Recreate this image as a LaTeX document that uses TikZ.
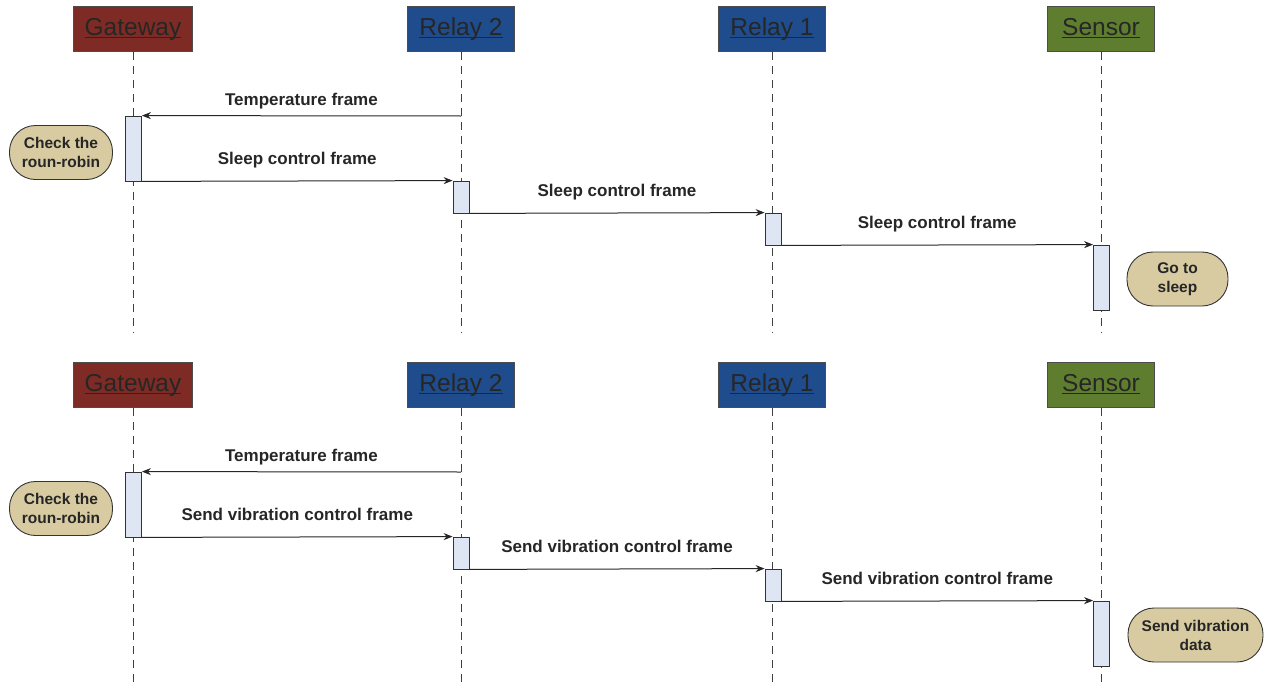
\documentclass[tikz,border=0pt]{standalone}
\usepackage{fontspec}
\setmainfont{Liberation Sans}
\usetikzlibrary{arrows.meta}
\definecolor{gwred}{HTML}{7E2B25}
\definecolor{rlblue}{HTML}{1F4C8C}
\definecolor{sngreen}{HTML}{5F7D2F}
\definecolor{actfill}{HTML}{DDE6F2}
\definecolor{pillfill}{HTML}{D8CBA2}
% underline at a fixed depth, independent of descenders
\newcommand\ulword[1]{\setbox0\hbox{#1}\rlap{\rule[-2.6pt]{\wd0}{1pt}}\box0}
\tikzset{
  head/.style={draw=black!70, line width=0.8pt, minimum width=107pt, minimum height=45pt,
    inner sep=0pt, text height=17pt, text depth=5pt,
    font=\fontsize{24.5}{26}\selectfont, text=black!85},
  life/.style={draw=black!75, line width=1pt, dash pattern=on 8pt off 6pt},
  act/.style={draw=black!80, fill=actfill, line width=0.8pt, minimum width=16pt, inner sep=0pt},
  msg/.style={draw=black!85, line width=1pt, -{Stealth[length=9pt,width=7pt]}},
  lbl/.style={font=\bfseries\fontsize{17}{19}\selectfont, text=black!85, inner sep=0pt,
    anchor=base},
  pill/.style={draw=black!80, fill=pillfill, line width=0.9pt, rectangle, rounded corners=26pt,
    minimum height=54pt, inner sep=2pt, align=center,
    font=\bfseries\fontsize{15.5}{19}\selectfont, text=black!85},
}
\begin{document}
\begin{tikzpicture}[x=1pt,y=-1pt]
\useasboundingbox (0,0) rectangle (1272,688);

% ---------- upper sequence: sleep command ----------
\node[head, fill=gwred, minimum width=119pt] (g1) at (133,29) {\ulword{Gateway}};
\node[head, fill=rlblue] (r21) at (461,29) {\ulword{Relay 2}};
\node[head, fill=rlblue] (r11) at (772,29) {\ulword{Relay 1}};
\node[head, fill=sngreen] (s1) at (1101,29) {\ulword{Sensor}};

\coordinate (g1e) at (133,332);
\coordinate (r21e) at (461,332);
\coordinate (r11e) at (772,332);
\coordinate (s1e) at (1101,332);
\draw[life] (g1) -- (g1e);
\draw[life] (r21) -- (r21e);
\draw[life] (r11) -- (r11e);
\draw[life] (s1) -- (s1e);

\node[act, minimum height=65pt] (ga1) at (133.5,148.5) {};
\node[act, minimum height=32pt] (ra1) at (461,197) {};
\node[act, minimum height=32pt] (rb1) at (773,229) {};
\node[act, minimum height=65pt] (sa1) at (1101.5,277.5) {};

\coordinate (t1) at (461,116);
\draw[msg] (t1) -- (ga1.north east) node[lbl, midway, yshift=10pt] {Temperature frame};
\draw[msg] (ga1.south east) -- (ra1.north west) node[lbl, midway, yshift=17pt] {Sleep control frame};
\draw[msg] (ra1.south east) -- (rb1.north west) node[lbl, midway, yshift=17pt] {Sleep control frame};
\draw[msg] (rb1.south east) -- (sa1.north west) node[lbl, midway, yshift=17pt] {Sleep control frame};

\node[pill, minimum width=103pt] (cr1) at (61,152.5) {Check the\\roun-robin};
\node[pill, minimum width=101pt] (gs) at (1177.5,279) {Go to\\sleep};

% ---------- lower sequence: vibration request ----------
\node[head, fill=gwred, minimum width=119pt] (g2) at (133,385) {\ulword{Gateway}};
\node[head, fill=rlblue] (r22) at (461,385) {\ulword{Relay 2}};
\node[head, fill=rlblue] (r12) at (772,385) {\ulword{Relay 1}};
\node[head, fill=sngreen] (s2) at (1101,385) {\ulword{Sensor}};

\coordinate (g2e) at (133,690);
\coordinate (r22e) at (461,690);
\coordinate (r12e) at (772,690);
\coordinate (s2e) at (1101,690);
\draw[life] (g2) -- (g2e);
\draw[life] (r22) -- (r22e);
\draw[life] (r12) -- (r12e);
\draw[life] (s2) -- (s2e);

\node[act, minimum height=65pt] (ga2) at (133.5,504.5) {};
\node[act, minimum height=32pt] (ra2) at (461,553) {};
\node[act, minimum height=32pt] (rb2) at (773,585) {};
\node[act, minimum height=65pt] (sa2) at (1101.5,633.5) {};

\coordinate (t2) at (461,472);
\draw[msg] (t2) -- (ga2.north east) node[lbl, midway, yshift=10pt] {Temperature frame};
\draw[msg] (ga2.south east) -- (ra2.north west) node[lbl, midway, yshift=17pt] {Send vibration control frame};
\draw[msg] (ra2.south east) -- (rb2.north west) node[lbl, midway, yshift=17pt] {Send vibration control frame};
\draw[msg] (rb2.south east) -- (sa2.north west) node[lbl, midway, yshift=17pt] {Send vibration control frame};

\node[pill, minimum width=103pt] (cr2) at (61,508.5) {Check the\\roun-robin};
\node[pill, minimum width=135pt] (sv) at (1195.5,635) {Send vibration\\data};
\end{tikzpicture}
\end{document}
